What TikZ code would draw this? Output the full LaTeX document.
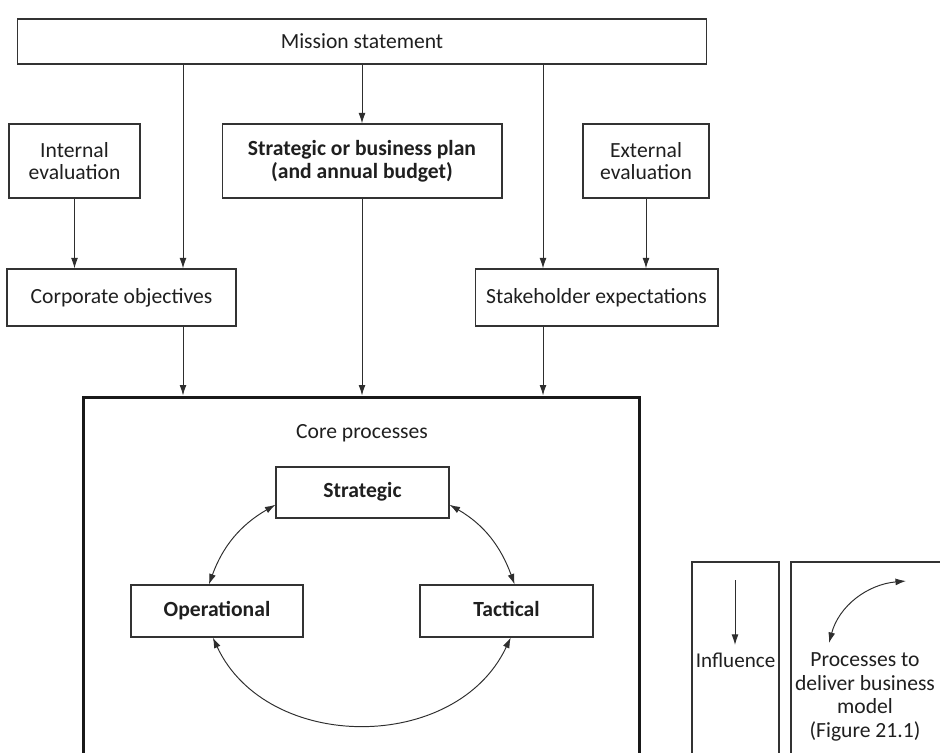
\documentclass[tikz,border=0pt]{standalone}
\usepackage{fontspec}
\setmainfont{Carlito}
\usetikzlibrary{arrows.meta}

\begin{document}
\begin{tikzpicture}[x=0.02cm,y=0.02cm,
  font=\fontsize{12.3}{13}\selectfont,
  box/.style={draw=black!80, line width=0.6pt, text=black!88, align=center, inner sep=0pt},
  corebox/.style={box, minimum height=1.04cm, text height=8.6pt, text depth=2.6pt, font=\fontsize{12.3}{13}\selectfont\bfseries},
  infl/.style={draw=black!82, line width=0.55pt, -{Latex[length=6pt,width=3.9pt]}},
  both/.style={draw=black!82, line width=0.55pt, {Latex[length=6pt,width=3.9pt]}-{Latex[length=6pt,width=3.9pt]}}]
\useasboundingbox (0,0) rectangle (940,-753);
\clip (0,0) rectangle (940,-753);

\node[box, minimum width=13.8cm, minimum height=0.9cm] (mission) at (362,-41.5) {Mission statement};
\node[box, minimum width=2.62cm, minimum height=1.48cm] (intev) at (74.5,-161) {Internal\\evaluation};
\node[box, minimum width=5.6cm, minimum height=1.48cm, font=\fontsize{12.3}{13}\selectfont\bfseries] (plan) at (362,-161) {Strategic or business plan\\(and annual budget)};
\node[box, minimum width=2.52cm, minimum height=1.48cm] (extev) at (646,-161) {External\\evaluation};
\node[box, minimum width=4.58cm, minimum height=1.14cm] (corp) at (121.5,-297.5) {Corporate objectives};
\node[box, minimum width=4.86cm, minimum height=1.14cm] (stake) at (596.5,-297.5) {Stakeholder expectations};
\node[box, draw=black!90, line width=1.7pt, minimum width=11.14cm, minimum height=9cm] (core) at (361.5,-622) {};
\node[text=black!88] (corelbl) at (362,-433) {Core processes};
\node[corebox, minimum width=3.46cm, minimum height=1.02cm] (strat) at (362.5,-492.5) {Strategic};
\node[corebox, minimum width=3.44cm] (op) at (217,-611) {Operational};
\node[corebox, minimum width=3.46cm] (tac) at (506.5,-611) {Tactical};

\coordinate (xl) at (183,0);
\coordinate (xr) at (543,0);
\draw[infl] (mission.south -| xl) -- (corp.north -| xl);
\draw[infl] (intev.south) -- (intev.south |- corp.north);
\draw[infl] (mission.south) -- (plan.north);
\draw[infl] (mission.south -| xr) -- (stake.north -| xr);
\draw[infl] (extev.south) -- (extev.south |- stake.north);
\draw[infl] (corp.south -| xl) -- (xl |- core.north);
\draw[infl] (plan.south) -- (plan.south |- core.north);
\draw[infl] (stake.south -| xr) -- (xr |- core.north);

\draw[both] (strat.188) to[out=210,in=70] (op.107);
\draw[both] (strat.-8) to[out=-30,in=110] (tac.73);
\draw[both] (op.261) to[out=-65,in=-115,looseness=1.1] (tac.279);

\node[box, minimum width=1.74cm, minimum height=4.76cm] (infbox) at (735.5,-681) {};
\node[box, minimum width=3.38cm, minimum height=4.76cm] (procbox) at (875.5,-681) {};
\coordinate (ia) at (735,-580);
\coordinate (ib) at (735,-645);
\draw[infl] (ia) -- (ib);
\node[text=black!88, font=\fontsize{12}{13}\selectfont] (inflbl) at (735.5,-660) {Influence};
\coordinate (pa) at (829,-643);
\coordinate (pb) at (906,-581);
\draw[both] (pa) to[out=75,in=185] (pb);
\node[text=black!88, align=center, font=\fontsize{12.3}{13.4}\selectfont] (proclbl) at (865,-697) {Processes to\\deliver business\\model\\(Figure 21.1)};
\end{tikzpicture}
\end{document}
